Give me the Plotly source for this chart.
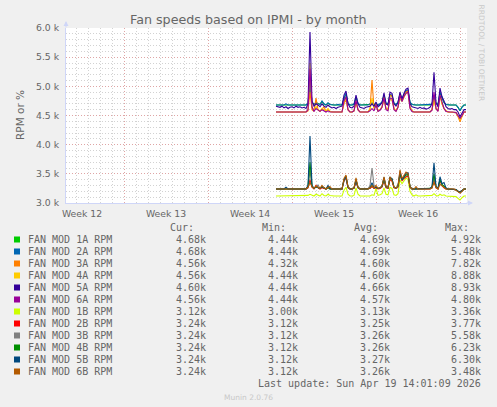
import pandas as pd
import plotly.graph_objects as go

# Munin "fan speeds by month" - 2h samples consolidated to 4h, Apr 3 16:00 .. Apr 19 12:00
times = pd.date_range("2026-04-03 16:00", periods=96, freq="4h")

names = ["FAN MOD 1A RPM", "FAN MOD 2A RPM", "FAN MOD 3A RPM", "FAN MOD 4A RPM",
         "FAN MOD 5A RPM", "FAN MOD 6A RPM", "FAN MOD 1B RPM", "FAN MOD 2B RPM",
         "FAN MOD 3B RPM", "FAN MOD 4B RPM", "FAN MOD 5B RPM", "FAN MOD 6B RPM"]
colors = ["#00CC00", "#0066B3", "#FF8000", "#FFCC00", "#330099", "#990099",
          "#CCFF00", "#FF0000", "#808080", "#008F00", "#00487D", "#B35A00"]

cur = ["4.68k", "4.68k", "4.56k", "4.56k", "4.60k", "4.56k", "3.12k", "3.24k", "3.24k", "3.24k", "3.24k", "3.24k"]
mins = ["4.44k", "4.44k", "4.32k", "4.44k", "4.44k", "4.44k", "3.00k", "3.12k", "3.12k", "3.12k", "3.12k", "3.12k"]
avgs = ["4.69k", "4.69k", "4.60k", "4.60k", "4.66k", "4.57k", "3.13k", "3.25k", "3.26k", "3.26k", "3.27k", "3.26k"]
maxs = ["4.92k", "5.48k", "7.82k", "8.88k", "8.93k", "4.80k", "3.36k", "3.77k", "5.58k", "6.23k", "6.30k", "3.48k"]

fan_1a = [4680, 4680, 4680, 4680, 4680, 4690, 4680, 4680, 4680, 4680, 4680, 4680,
          4680, 4680, 4680, 4680, 4700, 5000, 4720, 4690, 4720, 4700, 4690, 4740,
          4690, 4680, 4710, 4690, 4680, 4680, 4680, 4680, 4680, 4680, 4780, 4870,
          4700, 4680, 4680, 4690, 4800, 4700, 4680, 4680, 4680, 4680, 4680, 4690,
          4720, 4690, 4700, 4680, 4690, 4720, 4840, 4700, 4690, 4850, 4840, 4700,
          4690, 4720, 4860, 4780, 4850, 4900, 4920, 4720, 4690, 4680, 4680, 4680,
          4680, 4680, 4680, 4680, 4680, 4680, 4700, 4840, 4700, 4690, 4880, 4800,
          4720, 4690, 4680, 4680, 4680, 4680, 4680, 4640, 4580, 4650, 4680, 4680]
fan_2a = [4680, 4680, 4690, 4680, 4680, 4700, 4680, 4680, 4680, 4690, 4680, 4680,
          4680, 4680, 4690, 4680, 4710, 5100, 4730, 4690, 4720, 4700, 4690, 4750,
          4700, 4680, 4720, 4690, 4680, 4680, 4680, 4690, 4680, 4680, 4800, 4880,
          4710, 4680, 4680, 4700, 4820, 4710, 4680, 4680, 4680, 4690, 4680, 4700,
          4720, 4690, 4700, 4680, 4700, 4730, 4850, 4710, 4700, 4860, 4850, 4710,
          4690, 4730, 4870, 4790, 4860, 4920, 4940, 4730, 4690, 4680, 4680, 4680,
          4680, 4680, 4680, 4680, 4680, 4690, 4700, 4850, 4710, 4690, 4900, 4820,
          4730, 4690, 4680, 4680, 4680, 4680, 4680, 4640, 4580, 4640, 4680, 4680]
fan_3a = [4560, 4560, 4560, 4560, 4560, 4560, 4560, 4560, 4560, 4560, 4560, 4560,
          4560, 4560, 4560, 4560, 4580, 4900, 4600, 4570, 4800, 4600, 4570, 4620,
          4650, 4570, 4600, 4570, 4560, 4560, 4560, 4560, 4560, 4560, 4700, 4780,
          4600, 4560, 4560, 4580, 4720, 4600, 4560, 4560, 4560, 4560, 4560, 4620,
          5110, 4620, 4700, 4580, 4600, 4650, 4820, 4620, 4600, 4850, 4830, 4620,
          4580, 4650, 4880, 4760, 4840, 4900, 4920, 4650, 4580, 4560, 4560, 4560,
          4560, 4560, 4560, 4560, 4560, 4560, 4600, 4780, 4620, 4580, 4850, 4700,
          4620, 4580, 4560, 4560, 4560, 4560, 4550, 4480, 4390, 4480, 4560, 4560]
fan_4a = [4560, 4560, 4560, 4560, 4560, 4570, 4560, 4560, 4560, 4560, 4560, 4560,
          4560, 4560, 4560, 4560, 4600, 5400, 4650, 4580, 4650, 4600, 4580, 4620,
          4600, 4580, 4620, 4570, 4560, 4560, 4560, 4560, 4560, 4560, 4720, 4800,
          4600, 4560, 4560, 4580, 4740, 4600, 4560, 4560, 4560, 4560, 4560, 4600,
          4800, 4620, 4680, 4580, 4600, 4640, 4760, 4620, 4600, 4780, 4760, 4620,
          4580, 4640, 4800, 4740, 4820, 4880, 4900, 4640, 4580, 4560, 4560, 4560,
          4560, 4560, 4560, 4560, 4560, 4560, 4600, 4760, 4620, 4580, 4840, 4700,
          4620, 4580, 4560, 4560, 4560, 4560, 4550, 4500, 4420, 4500, 4560, 4560]
fan_5a = [4660, 4650, 4640, 4660, 4630, 4650, 4620, 4640, 4650, 4630, 4660, 4640,
          4650, 4630, 4640, 4620, 4700, 5930, 4750, 4660, 4700, 4680, 4650, 4700,
          4660, 4640, 4680, 4650, 4630, 4640, 4620, 4640, 4650, 4660, 4850, 4920,
          4700, 4640, 4630, 4660, 4850, 4700, 4640, 4630, 4620, 4640, 4650, 4660,
          4700, 4660, 4730, 4650, 4680, 4720, 4890, 4700, 4680, 4900, 4880, 4700,
          4660, 4720, 4900, 4780, 4880, 4950, 4970, 4700, 4650, 4640, 4630, 4620,
          4640, 4620, 4630, 4610, 4620, 4640, 4700, 5240, 4720, 4650, 4970, 4820,
          4750, 4650, 4620, 4610, 4620, 4600, 4600, 4560, 4480, 4540, 4600, 4600]
fan_6a = [4560, 4560, 4560, 4560, 4560, 4560, 4560, 4560, 4560, 4560, 4560, 4560,
          4560, 4560, 4560, 4560, 4600, 5300, 4650, 4570, 4620, 4600, 4570, 4600,
          4580, 4560, 4580, 4560, 4560, 4560, 4560, 4560, 4560, 4560, 4750, 4820,
          4600, 4560, 4560, 4580, 4760, 4600, 4560, 4560, 4560, 4560, 4560, 4580,
          4620, 4580, 4680, 4570, 4590, 4640, 4800, 4600, 4580, 4800, 4790, 4600,
          4570, 4640, 4850, 4740, 4830, 4880, 4900, 4620, 4570, 4560, 4560, 4560,
          4560, 4560, 4560, 4560, 4560, 4560, 4590, 4900, 4620, 4570, 4850, 4720,
          4620, 4570, 4560, 4560, 4560, 4560, 4550, 4500, 4450, 4500, 4560, 4560]
fan_1b = [3120, 3120, 3120, 3120, 3120, 3120, 3120, 3120, 3120, 3120, 3120, 3120,
          3120, 3120, 3120, 3120, 3130, 3150, 3130, 3120, 3150, 3130, 3120, 3160,
          3130, 3120, 3150, 3130, 3120, 3120, 3120, 3120, 3120, 3120, 3220, 3270,
          3150, 3120, 3120, 3130, 3260, 3150, 3120, 3120, 3120, 3120, 3120, 3120,
          3140, 3130, 3250, 3130, 3140, 3160, 3260, 3150, 3140, 3270, 3250, 3140,
          3130, 3160, 3400, 3330, 3380, 3430, 3400, 3200, 3140, 3120, 3140, 3120,
          3120, 3120, 3130, 3120, 3120, 3120, 3130, 3160, 3130, 3120, 3150, 3130,
          3140, 3120, 3120, 3120, 3120, 3120, 3110, 3080, 3050, 3090, 3120, 3120]
fan_2b = [3240, 3240, 3240, 3240, 3240, 3240, 3240, 3240, 3240, 3240, 3240, 3240,
          3240, 3240, 3240, 3240, 3260, 3400, 3270, 3240, 3300, 3260, 3240, 3260,
          3250, 3240, 3260, 3240, 3240, 3240, 3240, 3240, 3240, 3240, 3380, 3420,
          3260, 3240, 3240, 3250, 3360, 3260, 3240, 3240, 3240, 3240, 3240, 3250,
          3280, 3250, 3260, 3240, 3250, 3270, 3380, 3260, 3250, 3400, 3380, 3260,
          3250, 3270, 3480, 3380, 3420, 3450, 3460, 3270, 3240, 3240, 3240, 3240,
          3240, 3240, 3240, 3240, 3240, 3240, 3260, 3400, 3260, 3240, 3380, 3300,
          3260, 3240, 3240, 3240, 3240, 3240, 3230, 3200, 3180, 3210, 3240, 3240]
fan_3b = [3240, 3240, 3240, 3240, 3240, 3240, 3240, 3240, 3240, 3240, 3240, 3240,
          3240, 3240, 3240, 3240, 3270, 3550, 3280, 3250, 3270, 3310, 3250, 3270,
          3260, 3240, 3260, 3240, 3240, 3240, 3240, 3240, 3240, 3240, 3380, 3440,
          3270, 3240, 3240, 3250, 3390, 3260, 3240, 3240, 3240, 3240, 3240, 3300,
          3600, 3300, 3270, 3250, 3260, 3280, 3400, 3270, 3260, 3420, 3400, 3270,
          3250, 3280, 3500, 3390, 3440, 3480, 3480, 3270, 3240, 3240, 3240, 3240,
          3240, 3240, 3240, 3240, 3240, 3240, 3260, 3450, 3270, 3240, 3400, 3310,
          3280, 3240, 3240, 3240, 3240, 3240, 3230, 3200, 3180, 3210, 3240, 3240]
fan_4b = [3240, 3240, 3240, 3240, 3240, 3240, 3240, 3240, 3240, 3240, 3240, 3240,
          3240, 3240, 3240, 3240, 3280, 3700, 3290, 3250, 3280, 3270, 3250, 3280,
          3260, 3240, 3270, 3240, 3240, 3240, 3240, 3240, 3240, 3240, 3400, 3460,
          3270, 3240, 3240, 3260, 3400, 3270, 3240, 3240, 3240, 3240, 3240, 3260,
          3300, 3260, 3270, 3250, 3260, 3290, 3420, 3280, 3260, 3430, 3410, 3270,
          3260, 3290, 3500, 3400, 3450, 3480, 3490, 3280, 3240, 3240, 3240, 3240,
          3240, 3240, 3240, 3240, 3240, 3250, 3270, 3500, 3280, 3250, 3400, 3320,
          3290, 3250, 3240, 3240, 3240, 3240, 3230, 3200, 3180, 3210, 3240, 3240]
fan_5b = [3240, 3240, 3240, 3240, 3240, 3270, 3240, 3240, 3240, 3240, 3240, 3240,
          3240, 3240, 3240, 3240, 3300, 4150, 3300, 3250, 3280, 3260, 3250, 3280,
          3260, 3240, 3300, 3250, 3240, 3240, 3240, 3240, 3240, 3240, 3400, 3450,
          3270, 3240, 3240, 3260, 3380, 3270, 3240, 3240, 3240, 3240, 3240, 3260,
          3350, 3260, 3270, 3250, 3260, 3290, 3440, 3280, 3260, 3440, 3420, 3270,
          3260, 3290, 3540, 3400, 3460, 3510, 3520, 3280, 3240, 3240, 3240, 3240,
          3240, 3240, 3240, 3240, 3240, 3250, 3280, 3690, 3280, 3250, 3450, 3330,
          3350, 3260, 3240, 3240, 3240, 3240, 3230, 3200, 3180, 3210, 3240, 3240]
fan_6b = [3240, 3240, 3240, 3240, 3240, 3240, 3240, 3240, 3240, 3240, 3240, 3240,
          3240, 3240, 3240, 3240, 3270, 3350, 3280, 3250, 3290, 3270, 3250, 3300,
          3260, 3240, 3270, 3280, 3240, 3240, 3240, 3240, 3240, 3240, 3420, 3480,
          3280, 3240, 3240, 3260, 3430, 3270, 3240, 3240, 3240, 3240, 3240, 3260,
          3300, 3260, 3300, 3250, 3260, 3290, 3450, 3280, 3260, 3450, 3380, 3270,
          3260, 3290, 3570, 3420, 3480, 3530, 3500, 3280, 3240, 3240, 3280, 3240,
          3240, 3240, 3240, 3240, 3240, 3240, 3260, 3350, 3270, 3240, 3320, 3290,
          3270, 3240, 3240, 3240, 3240, 3240, 3220, 3200, 3170, 3200, 3240, 3240]

series = [fan_1a, fan_2a, fan_3a, fan_4a, fan_5a, fan_6a,
          fan_1b, fan_2b, fan_3b, fan_4b, fan_5b, fan_6b]

week_bounds = ["2026-03-22", "2026-03-29", "2026-04-05", "2026-04-12", "2026-04-19"]
week_mids = ["2026-03-18 12:00", "2026-03-25 12:00", "2026-04-01 12:00",
             "2026-04-08 12:00", "2026-04-15 12:00"]
week_labels = ["Week 12", "Week 13", "Week 14", "Week 15", "Week 16"]
y_ticks = [3000, 3500, 4000, 4500, 5000, 5500, 6000]
y_labels = ["3.0 k", "3.5 k", "4.0 k", "4.5 k", "5.0 k", "5.5 k", "6.0 k"]

x_range = ["2026-03-17 04:00", "2026-04-19 14:00"]

FONT = "#666666"
AXIS = "#CFD6F8"
MGRID = "rgba(235,120,120,0.5)"
GRID = "rgba(165,165,165,0.5)"
DOTS = "1px,2px"

# pixel -> paper helpers (plot area is 66..467 x 28..203)
L, R, T, B = 66, 467, 28, 203
def px(x):
    return (x - L) / (R - L)
def py(y):
    return (B - y) / (B - T)

fig = go.Figure()
for name, color, vals in zip(names, colors, series):
    fig.add_trace(go.Scatter(x=times, y=vals, mode="lines", name=name,
                             line=dict(color=color, width=1.1), showlegend=False))
# carrier for the week-label axis
fig.add_trace(go.Scatter(x=[], y=[], xaxis="x2", showlegend=False, hoverinfo="skip"))

fig.update_layout(
    width=497, height=407,
    margin=dict(l=L, r=497 - R, t=T, b=407 - B),
    paper_bgcolor="#F0F0F0", plot_bgcolor="#FFFFFF",
    font=dict(family="DejaVu Sans", color=FONT, size=9.3),
    showlegend=False,
    xaxis=dict(type="date", range=x_range, tickmode="array", tickvals=week_bounds,
               showticklabels=False, ticks="", showgrid=True, gridcolor=MGRID,
               griddash=DOTS, gridwidth=1, zeroline=False,
               showline=True, linecolor=AXIS, linewidth=1,
               minor=dict(dtick=86400000, tick0="2026-03-15", showgrid=True,
                          gridcolor=GRID, griddash=DOTS, gridwidth=1)),
    xaxis2=dict(type="date", range=x_range, overlaying="x", anchor="y", side="bottom",
                tickmode="array", tickvals=week_mids, ticktext=week_labels,
                showgrid=False, zeroline=False, showline=False,
                ticks="outside", ticklen=2, tickcolor="rgba(0,0,0,0)",
                tickfont=dict(size=9.3, color=FONT)),
    yaxis=dict(range=[3000, 6000], tickmode="array", tickvals=y_ticks, ticktext=y_labels,
               showgrid=True, gridcolor=MGRID, griddash=DOTS, gridwidth=1,
               zeroline=False, showline=True, linecolor=AXIS, linewidth=1,
               ticks="outside", ticklen=4, tickcolor="rgba(0,0,0,0)",
               tickfont=dict(size=9.3, color=FONT),
               minor=dict(dtick=100, showgrid=True, gridcolor=GRID,
                          griddash=DOTS, gridwidth=1)),
)

ann = []
ann.append(dict(text="Fan speeds based on IPMI - by month", x=px(248), y=py(19),
                font=dict(size=12.7, color=FONT)))
ann.append(dict(text="RPM or %", x=px(12), y=py(115), textangle=-90,
                font=dict(size=10.5, color=FONT)))
ann.append(dict(text="RRDTOOL / TOBI OETIKER", x=px(488), y=py(53), textangle=90,
                font=dict(size=7.5, color="#C8C8C8")))
ann.append(dict(text="Munin 2.0.76", x=px(248), y=py(397),
                font=dict(size=7.5, color="#C8C8C8")))

mono = dict(family="DejaVu Sans Mono", size=10, color=FONT)
col_right = [207.5, 299.5, 391.5, 483]
headers = ["Cur:", "Min:", "Avg:", "Max:"]
for h, xr in zip(headers, col_right):
    ann.append(dict(text=h, x=px(xr - 12), y=py(227.5), xanchor="right", font=mono))

shapes = []
for k, name in enumerate(names):
    yc = 239.5 + 12 * k
    ann.append(dict(text=name, x=px(26), y=py(yc), xanchor="left", font=mono))
    for col, xr in zip([cur, mins, avgs, maxs], col_right):
        ann.append(dict(text=col[k], x=px(xr), y=py(yc), xanchor="right", font=mono))
    shapes.append(dict(type="rect", xref="paper", yref="paper",
                       x0=px(14), x1=px(20), y0=py(yc + 3), y1=py(yc - 3),
                       fillcolor=colors[k], line=dict(width=0)))

ann.append(dict(text="Last update: Sun Apr 19 14:01:09 2026", x=px(483), y=py(383.5),
                xanchor="right", font=mono))

for a in ann:
    a.setdefault("xref", "paper")
    a.setdefault("yref", "paper")
    a.setdefault("showarrow", False)
    a.setdefault("yanchor", "middle")

# axis arrows
ann.append(dict(text="", xref="paper", yref="paper", x=px(473), y=py(B), ax=-8, ay=0,
                showarrow=True, arrowhead=2, arrowsize=1, arrowwidth=1, arrowcolor=AXIS))
ann.append(dict(text="", xref="paper", yref="paper", x=px(L), y=py(21), ax=0, ay=8,
                showarrow=True, arrowhead=2, arrowsize=1, arrowwidth=1, arrowcolor=AXIS))

fig.update_layout(annotations=ann, shapes=shapes)

# the page body has a default 8px margin; drop it so the figure sits at 0,0
fig.write_html("out.html", config={"displayModeBar": False},
               post_script="document.body.style.margin='0';")
